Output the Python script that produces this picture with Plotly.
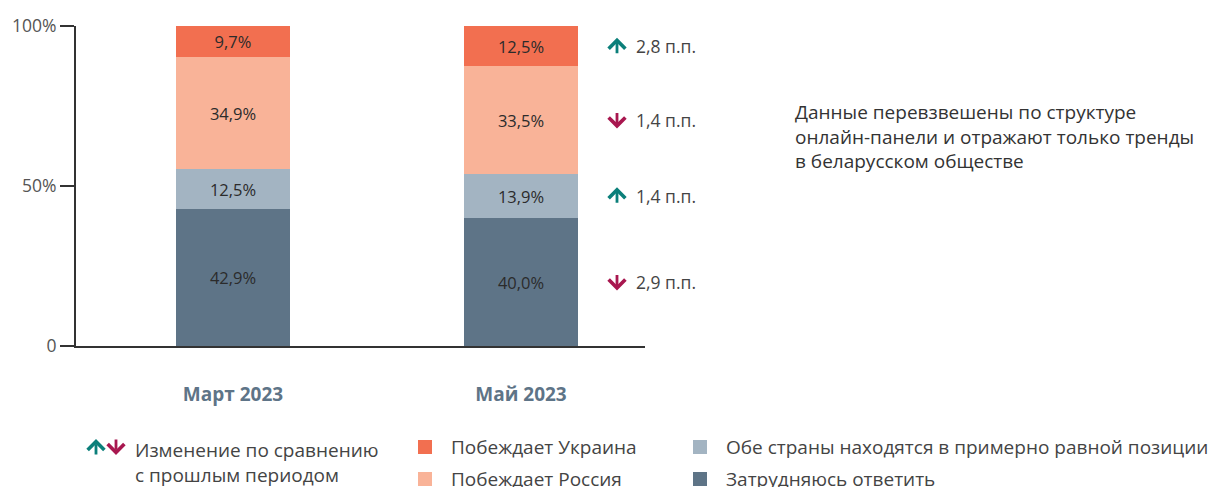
import plotly.graph_objects as go

# data
periods = ["Март 2023", "Май 2023"]
series_names = ["Затрудняюсь ответить", "Обе страны находятся в примерно равной позиции",
                "Побеждает Россия", "Побеждает Украина"]
series_colors = ["#5e7487", "#a3b4c2", "#f9b398", "#f26f50"]
hard_to_say = [42.9, 40.0]
equal_position = [12.5, 13.9]
russia_wins = [34.9, 33.5]
ukraine_wins = [9.7, 12.5]
y_tickvals = [0, 50, 100]
y_ticktext = ["0", "50%", "100%"]
note_text = "Данные перевзвешены по структуре<br>онлайн-панели и отражают только тренды<br>в беларусском обществе"
change_note = "Изменение по сравнению<br>с прошлым периодом"

series_values = [hard_to_say, equal_position, russia_wins, ukraine_wins]

W, H = 1216, 487
L, R, T, B = 76, 645, 26, 346  # plot area in pixels
FONT = "Open Sans"
TEAL = "#0b7f7a"
CRIMSON = "#a8174f"
PX_PER_UNIT = (B - T) / 100.0


def px(x):
    return (x - L) / (R - L)


def py(y):
    return (B - y) / (B - T)


def fmt(v):
    return f"{v:.1f}".replace(".", ",") + "%"


def arrow(x, y, up, yref="paper"):
    # small thick arrow; (x, y) is the head, tail is 17px away
    return dict(x=x, y=y, xref="paper", yref=yref, text="", font=dict(size=1),
                showarrow=True, arrowhead=4, arrowsize=1.15, arrowwidth=2.8,
                arrowcolor=TEAL if up else CRIMSON, ax=0, ay=17 if up else -17,
                standoff=0, startstandoff=0)


fig = go.Figure()
for name, vals, col in zip(series_names, series_values, series_colors):
    fig.add_trace(go.Bar(
        x=[0, 1], y=vals, name=name, marker=dict(color=col, line=dict(width=0)),
        width=0.396, text=[fmt(v) for v in vals], textposition="inside",
        insidetextanchor="middle", textangle=0,
        textfont=dict(family=FONT, size=16.5, color="#2b2b2b"),
        showlegend=False, hoverinfo="skip",
    ))

annotations = []
# change vs previous period, placed at the middle of each May segment
base = 0.0
half = 8.5 / PX_PER_UNIT
for vals in series_values:
    delta = round(vals[1] - vals[0], 1)
    mid = base + vals[1] / 2
    base += vals[1]
    up = delta > 0
    annotations.append(arrow(px(617), mid + half if up else mid - half, up, yref="y"))
    annotations.append(dict(
        x=px(634), y=mid, xref="paper", yref="y", xanchor="left", yanchor="middle",
        text=f"{abs(delta):.1f}".replace(".", ",") + " п.п.", showarrow=False,
        font=dict(family=FONT, size=17.5, color="#444"),
    ))

annotations.append(dict(
    x=px(793), y=py(136), xref="paper", yref="paper", xanchor="left", yanchor="middle",
    align="left", text=note_text, showarrow=False,
    font=dict(family=FONT, size=19, color="#333"),
))

# custom legend
annotations.append(arrow(px(96), py(439), True))
annotations.append(arrow(px(116), py(455), False))
annotations.append(dict(x=px(133), y=py(462), xref="paper", yref="paper", xanchor="left", yanchor="middle",
                        align="left", text=change_note, showarrow=False,
                        font=dict(family=FONT, size=19, color="#444")))

legend_slots = [  # (series index, square x, row y)
    (3, 418, 447), (2, 418, 479), (1, 693, 447), (0, 693, 479),
]
shapes = []
for idx, sx, sy in legend_slots:
    shapes.append(dict(type="rect", xref="paper", yref="paper",
                       x0=px(sx), x1=px(sx + 14), y0=py(sy - 7), y1=py(sy + 7),
                       fillcolor=series_colors[idx], line=dict(width=0)))
    annotations.append(dict(x=px(sx + 31), y=py(sy), xref="paper", yref="paper", xanchor="left",
                            yanchor="middle", text=series_names[idx], showarrow=False,
                            font=dict(family=FONT, size=19, color="#444")))

fig.update_layout(
    width=W, height=H,
    margin=dict(l=L, r=W - R, t=T, b=H - B),
    plot_bgcolor="white", paper_bgcolor="white",
    barmode="stack", bargap=0,
    xaxis=dict(range=[(L - 233) / 288, (R - 233) / 288], tickvals=[0, 1], ticktext=periods,
               showline=True, linecolor="#333", linewidth=2, ticks="", showgrid=False,
               zeroline=False, ticklabelstandoff=30,
               tickfont=dict(family=FONT, size=19, color="#5e7487", weight="bold")),
    yaxis=dict(range=[0, 100], tickvals=y_tickvals, ticktext=y_ticktext,
               showline=True, linecolor="#333", linewidth=2, ticks="outside", ticklen=14,
               tickwidth=2, tickcolor="#333", showgrid=False, zeroline=False,
               tickfont=dict(family=FONT, size=17.5, color="#555")),
    annotations=annotations, shapes=shapes,
)

fig.write_html("out.html", config={"displayModeBar": False},
               post_script="document.body.style.margin='0';")
